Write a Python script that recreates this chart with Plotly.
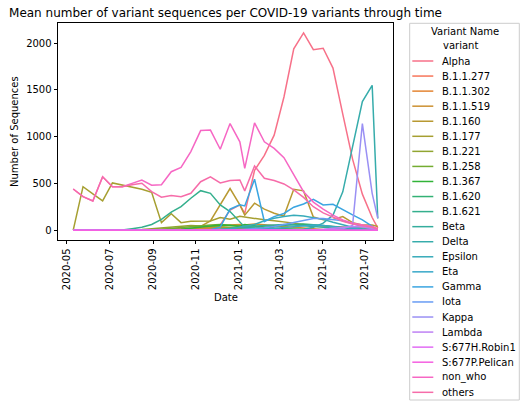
import math
import plotly.graph_objects as go

# sample dates (two-week bins, one short bin at the new year and at the end)
dates = ['2020-05-10', '2020-05-24', '2020-06-07', '2020-06-21', '2020-07-05', '2020-07-19',
         '2020-08-02', '2020-08-16', '2020-08-30', '2020-09-13', '2020-09-27', '2020-10-11',
         '2020-10-25', '2020-11-08', '2020-11-22', '2020-12-06', '2020-12-20', '2021-01-03',
         '2021-01-10', '2021-01-24', '2021-02-07', '2021-02-21', '2021-03-07', '2021-03-21',
         '2021-04-04', '2021-04-18', '2021-05-02', '2021-05-16', '2021-05-30', '2021-06-13',
         '2021-06-27', '2021-07-11', '2021-07-19']

variants = ['Alpha', 'B.1.1.277', 'B.1.1.302', 'B.1.1.519', 'B.1.160', 'B.1.177', 'B.1.221',
            'B.1.258', 'B.1.367', 'B.1.620', 'B.1.621', 'Beta', 'Delta', 'Epsilon', 'Eta',
            'Gamma', 'Iota', 'Kappa', 'Lambda', 'S:677H.Robin1', 'S:677P.Pelican',
            'non_who', 'others']

alpha = [0, 0, 0, 0, 0, 0, 0, 0, 0, 0, 0, 1, 2, 5, 15, 55, 215, 270, 180, 640, 800, 1016, 1424,
         1940, 2110, 1930, 1946, 1733, 1240, 760, 385, 135, 25]
b11277 = [0, 0, 0, 0, 0, 0, 0, 0, 5, 10, 15, 20, 25, 30, 30, 25, 20, 15, 12, 10, 8, 5, 3, 2, 1,
          0, 0, 0, 0, 0, 0, 0, 0]
b11302 = [0, 0, 0, 0, 0, 0, 0, 0, 0, 0, 3, 8, 12, 18, 22, 25, 22, 18, 14, 10, 7, 5, 3, 2, 1,
          0, 0, 0, 0, 0, 0, 0, 0]
b11519 = [0, 0, 0, 0, 0, 0, 0, 0, 0, 0, 0, 0, 5, 15, 30, 45, 55, 60, 55, 65, 60, 50, 40, 30, 20,
          12, 8, 5, 3, 2, 1, 0, 0]
b1160 = [0, 0, 0, 0, 0, 0, 0, 0, 0, 0, 0, 0, 10, 40, 99, 270, 445, 270, 160, 288, 224, 181, 150,
         437, 420, 140, 110, 115, 145, 80, 55, 55, 40]
b1177 = [0, 465, 388, 312, 505, 483, 460, 437, 405, 80, 176, 80, 95, 99, 99, 135, 117, 148, 140,
         128, 110, 100, 90, 75, 60, 50, 45, 40, 35, 30, 25, 20, 15]
b1221 = [0, 0, 0, 0, 0, 0, 3, 8, 15, 25, 35, 45, 50, 45, 40, 30, 25, 20, 15, 10, 8, 5, 3, 2, 1,
         0, 0, 0, 0, 0, 0, 0, 0]
b1258 = [0, 0, 0, 0, 0, 0, 0, 0, 5, 10, 20, 30, 40, 50, 55, 60, 55, 50, 45, 35, 25, 18, 12, 8, 5,
         3, 2, 1, 0, 0, 0, 0, 0]
b1367 = [0, 0, 0, 0, 0, 0, 0, 0, 0, 0, 5, 10, 20, 30, 45, 55, 50, 40, 60, 45, 30, 20, 12, 8, 5,
         3, 2, 1, 0, 0, 0, 0, 0]
b1620 = [0, 0, 0, 0, 0, 0, 0, 0, 0, 0, 0, 0, 0, 0, 0, 0, 0, 5, 10, 20, 30, 40, 55, 60, 65, 60,
         50, 35, 20, 10, 5, 2, 0]
b1621 = [0, 0, 0, 0, 0, 2, 15, 30, 60, 115, 192, 252, 341, 422, 394, 270, 199, 95, 32, 20, 15,
         10, 8, 5, 5, 3, 2, 2, 1, 1, 0, 0, 0]
beta = [0, 0, 0, 0, 0, 0, 0, 0, 0, 0, 0, 0, 0, 0, 5, 10, 20, 30, 35, 40, 50, 55, 60, 55, 50, 40,
        30, 20, 12, 8, 5, 2, 0]
delta = [0, 0, 0, 0, 0, 0, 0, 0, 0, 0, 0, 0, 0, 0, 0, 0, 0, 0, 0, 0, 2, 3, 5, 8, 10, 30, 75, 160,
         410, 900, 1375, 1549, 125]
epsilon = [0, 0, 0, 0, 0, 0, 0, 0, 0, 0, 0, 0, 0, 0, 0, 5, 15, 30, 40, 60, 100, 128, 145, 160,
           152, 135, 115, 85, 55, 30, 15, 5, 0]
eta = [0, 0, 0, 0, 0, 0, 0, 0, 0, 0, 0, 0, 0, 0, 0, 0, 0, 0, 0, 5, 10, 20, 30, 40, 50, 55, 50,
       40, 25, 15, 8, 3, 0]
gamma = [0, 0, 0, 0, 0, 0, 0, 0, 0, 0, 0, 0, 0, 0, 5, 32, 224, 270, 259, 544, 92, 145, 178, 245,
         280, 330, 270, 276, 216, 163, 110, 38, 3]
iota = [0, 0, 0, 0, 0, 0, 0, 0, 0, 0, 0, 0, 0, 0, 0, 0, 0, 5, 10, 15, 25, 40, 60, 80, 100, 125,
        125, 115, 100, 70, 35, 15, 5]
kappa = [0, 0, 0, 0, 0, 0, 0, 0, 0, 0, 0, 0, 0, 0, 0, 0, 0, 0, 0, 0, 0, 0, 0, 0, 0, 0, 2, 5, 15,
         50, 1140, 394, 128]
lambda_ = [0, 0, 0, 0, 0, 0, 0, 0, 0, 0, 0, 0, 0, 0, 0, 0, 0, 0, 0, 0, 0, 0, 0, 0, 2, 5, 10, 20,
           30, 40, 35, 20, 10]
robin1 = [0, 0, 0, 0, 0, 0, 0, 0, 0, 0, 0, 0, 1, 1, 2, 2, 2, 1, 1, 1, 1, 1, 0, 0, 0, 0, 0, 0, 0,
          0, 0, 0, 0]
pelican = [0, 0, 0, 0, 0, 0, 0, 0, 0, 0, 0, 0, 0, 0, 1, 1, 2, 2, 2, 2, 1, 1, 1, 0, 0, 0, 0, 0, 0,
           0, 0, 0, 0]
non_who = [440, 358, 312, 571, 465, 465, 500, 536, 480, 485, 625, 670, 840, 1065, 1070, 865, 1140,
           945, 660, 1147, 945, 874, 775, 600, 411, 300, 225, 160, 110, 75, 55, 40, 15]
others = [440, 358, 312, 571, 465, 465, 485, 501, 412, 352, 370, 358, 394, 518, 570, 505, 530,
          536, 420, 685, 554, 530, 494, 430, 350, 250, 185, 138, 95, 65, 45, 30, 10]

series = [alpha, b11277, b11302, b11519, b1160, b1177, b1221, b1258, b1367, b1620, b1621, beta,
          delta, epsilon, eta, gamma, iota, kappa, lambda_, robin1, pelican, non_who, others]

tick_dates = ['2020-05-01', '2020-07-01', '2020-09-01', '2020-11-01',
              '2021-01-01', '2021-03-01', '2021-05-01', '2021-07-01']
tick_labels = ['2020-05', '2020-07', '2020-09', '2020-11', '2021-01', '2021-03', '2021-05', '2021-07']
y_ticks = [0, 500, 1000, 1500, 2000]


# seaborn "husl" palette
M = [[3.2406, -1.5372, -0.4986],
     [-0.9689, 1.8758, 0.0415],
     [0.0557, -0.2040, 1.0570]]


def max_chroma(L, H):
    hrad = math.radians(H)
    sinH, cosH = math.sin(hrad), math.cos(hrad)
    sub1 = (L + 16) ** 3 / 1560896.0
    sub2 = sub1 if sub1 > 0.008856 else L / 903.3
    result = float("inf")
    for m1, m2, m3 in M:
        top = (0.99915 * m1 + 1.05122 * m2 + 1.14460 * m3) * sub2
        rbottom = 0.86330 * m3 - 0.17266 * m2
        lbottom = 0.12949 * m3 - 0.38848 * m1
        bottom = (rbottom * sinH + lbottom * cosH) * sub2
        for t in (0.0, 1.0):
            C = L * (top - 1.05122 * t) / (bottom + 0.17266 * sinH * t)
            if 0 < C < result:
                result = C
    return result


def husl_hex(h, s, l):
    C = max_chroma(l, h) / 100.0 * s
    hr = math.radians(h)
    U, V = math.cos(hr) * C, math.sin(hr) * C
    Y = ((l + 16) / 116) ** 3 if l > 8 else l / 903.3
    varU = U / (13 * l) + 0.19784
    varV = V / (13 * l) + 0.46834
    X = -(9 * Y * varU) / ((varU - 4) * varV - varU * varV)
    Z = (9 * Y - 15 * varV * Y - varV * X) / (3 * varV)
    rgb = []
    for row in M:
        c = row[0] * X + row[1] * Y + row[2] * Z
        c = 12.92 * c if c <= 0.0031308 else 1.055 * c ** (1 / 2.4) - 0.055
        rgb.append(min(max(c, 0.0), 1.0))
    return '#%02x%02x%02x' % tuple(int(round(v * 255)) for v in rgb)


n = len(variants)
colors = [husl_hex(((i / n) + 0.01) % 1 * 359, 0.9 * 99, 0.65 * 99) for i in range(n)]

FONT = 'DejaVu Sans'
W, H = 526, 409
L, R, T, B = 58, 133, 23, 169
pw, ph = W - L - R, H - T - B


def px(x):
    return (x - L) / pw


def py(y):
    return (H - B - y) / ph


fig = go.Figure()
for name, vals, col in zip(variants, series, colors):
    fig.add_trace(go.Scatter(x=dates, y=vals, mode='lines', name=name,
                             line=dict(color=col, width=1.5), showlegend=False))

# legend drawn by hand so the rows can be as tight as matplotlib's
shapes = [dict(type='rect', xref='paper', yref='paper', x0=px(409.7), x1=px(519.3),
               y0=py(400), y1=py(23.3), line=dict(color='#cccccc', width=1),
               fillcolor='rgba(255,255,255,0.8)', layer='above')]
annotations = [
    dict(text='Variant Name', xref='paper', yref='paper', x=px(464.5), y=py(31.7),
         xanchor='center', yanchor='middle', showarrow=False, font=dict(size=10)),
    dict(text='variant', xref='paper', yref='paper', x=px(440.5), y=py(45.7),
         xanchor='left', yanchor='middle', showarrow=False, font=dict(size=10)),
]
for i, (name, col) in enumerate(zip(variants, colors)):
    yy = 61 + i * 15.06
    shapes.append(dict(type='line', xref='paper', yref='paper', x0=px(412.3), x1=px(433.3),
                       y0=py(yy), y1=py(yy), line=dict(color=col, width=1.5)))
    annotations.append(dict(text=name, xref='paper', yref='paper', x=px(440), y=py(yy),
                            xanchor='left', yanchor='middle', showarrow=False,
                            font=dict(size=10)))

annotations.append(dict(text='Number of Sequences', xref='paper', yref='paper', x=px(14.5),
                        y=0.5, textangle=-90, xanchor='center', yanchor='middle',
                        showarrow=False, font=dict(size=10)))
annotations.append(dict(text='Date', xref='paper', yref='paper', x=0.5, y=py(297),
                        xanchor='center', yanchor='middle', showarrow=False,
                        font=dict(size=10)))

axis_style = dict(showgrid=False, zeroline=False, showline=True, mirror=True, automargin=False,
                  linecolor='black', linewidth=0.8, ticks='outside', ticklen=3.5,
                  tickwidth=0.8, tickcolor='black', tickfont=dict(size=10))

fig.update_layout(
    template='none',
    width=W, height=H,
    margin=dict(l=L, r=R, t=T, b=B, pad=0),
    paper_bgcolor='white', plot_bgcolor='white',
    font=dict(family=FONT, size=10, color='black'),
    title=dict(text='Mean number of variant sequences per COVID-19 variants through time',
               x=0.5, xref='paper', xanchor='center', y=1 - 12.5 / H, yref='container',
               yanchor='middle', font=dict(size=12)),
    xaxis=dict(type='date', range=['2020-04-18 06:00', '2021-08-09 18:00'],
               tickvals=tick_dates, ticktext=tick_labels, tickangle=-90, **axis_style),
    yaxis=dict(range=[-105.5, 2215.5], tickvals=y_ticks, **axis_style),
    shapes=shapes,
    annotations=annotations,
)

# the page's default body margin would shift the figure by 8px
fig.write_html("out.html", config={'displayModeBar': False},
               post_script="document.body.style.margin = '0px';")
